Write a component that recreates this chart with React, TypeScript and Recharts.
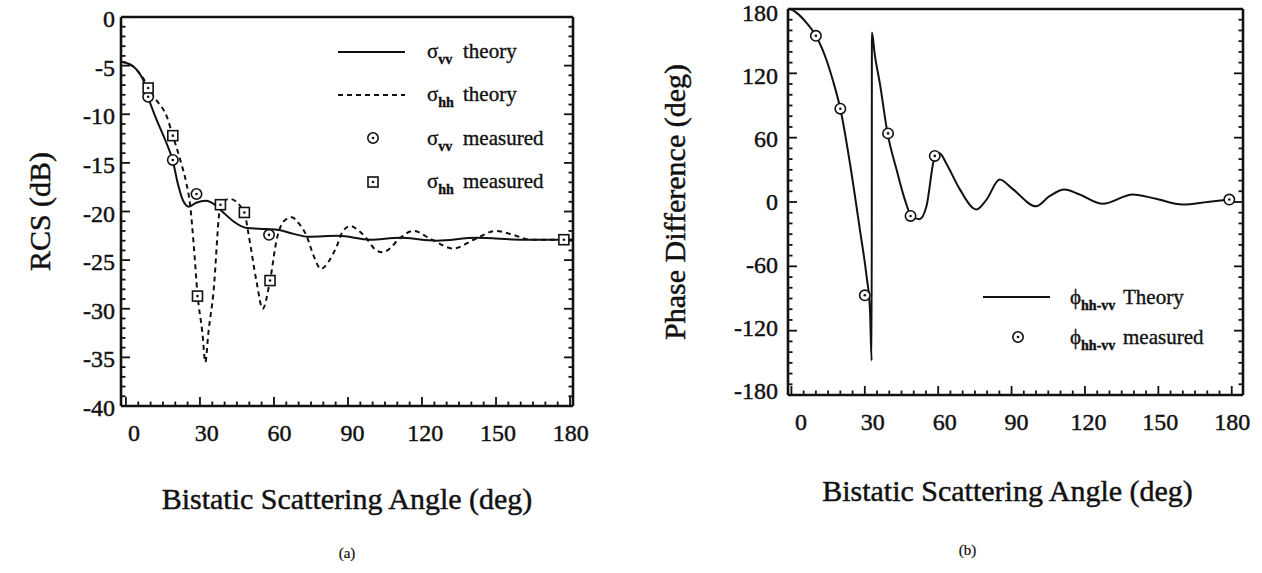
import React from 'react'
import { ComposedChart, Line, Scatter, XAxis, YAxis, Legend, Label } from 'recharts'

const FONT = "'Liberation Serif', 'Times New Roman', Times, serif"
const INK = '#111'

// ---- (a) RCS vs bistatic angle ----
const vvTheoryAngle = [-2, 0, 3, 5.5, 7.5, 9, 12.5, 16, 19, 21.2, 23.2, 25.5, 28.5, 32.5, 36, 39.5, 43.5, 49, 57, 62, 68, 74, 86, 99, 111, 126, 142, 161, 181]
const vvTheoryDb = [-4.6, -4.7, -5.1, -5.8, -6.8, -8.2, -10.6, -12.7, -14.8, -17.3, -18.9, -19.5, -19.1, -18.9, -19.3, -20.1, -21.0, -21.7, -21.8, -21.9, -22.3, -22.6, -22.5, -22.9, -22.7, -23.0, -22.7, -22.9, -22.9]

const hhTheoryAngle = [-2, 0, 3, 5.5, 7.5, 9, 12.5, 16.5, 19, 22, 24.5, 26, 27.5, 29, 31, 32.2, 33.4, 35.4, 38.4, 42, 48, 49.6, 53, 55.4, 58.4, 61.1, 64, 67.2, 70, 73.2, 76, 79, 82, 85.4, 88, 91, 94, 97.6, 101, 104, 107, 110, 116.5, 124, 132.7, 141, 150, 157, 164, 181]
const hhTheoryDb = [-4.6, -4.7, -5.1, -5.8, -6.5, -7.3, -8.6, -10.2, -12.2, -14.7, -17.1, -19.3, -23.5, -28.5, -32.5, -35.5, -32.5, -28.5, -19.3, -18.7, -20.1, -22.2, -27.3, -30.0, -27.1, -22.9, -21.0, -20.6, -21.2, -22.5, -24.5, -25.9, -25.2, -23.6, -22.0, -21.5, -21.9, -22.8, -23.9, -24.2, -23.8, -23.0, -22.0, -22.9, -23.8, -22.9, -22.0, -22.4, -22.9, -22.9]

const vvMeasuredAngle = [9, 19, 28.6, 58]
const vvMeasuredDb = [-8.2, -14.7, -18.2, -22.4]
const hhMeasuredAngle = [9, 19, 29, 38.3, 48, 58.4, 177.5]
const hhMeasuredDb = [-7.3, -12.2, -28.7, -19.3, -20.1, -27.1, -22.9]

// ---- (b) phase difference ----
const phaseTheoryAngle = [-1.4, 0, 2, 6, 10, 14.4, 17, 20, 24, 28, 30.7, 32.1, 32.8, 32.9, 34.1, 36.2, 39.3, 43, 46.4, 49.1, 52.4, 55.2, 58.6, 60.6, 63.3, 68.8, 75.6, 79.7, 85.1, 90.5, 100, 105.5, 111.6, 117.8, 127.3, 139.5, 149, 159.9, 170, 179]
const phaseTheoryDeg = [180, 179.5, 176.6, 167.5, 155, 132, 113, 87, 35, -26, -69, -100, -148, 158, 137, 110, 64, 30, 2, -13.5, -16, -4, 42, 45.5, 36, 12, -7, 2, 21, 12, -4, 5.4, 11.6, 7, -1.7, 7, 3, -2.3, 0, 2.3]
const phaseMeasuredAngle = [10, 20, 30, 39.5, 48.7, 58.6, 179]
const phaseMeasuredDeg = [155, 87, -87, 64, -13, 43, 2.3]

const range = (a: number, b: number, s: number) => {
  const r: number[] = []
  for (let v = a; v <= b + 1e-9; v += s) r.push(Math.round(v * 100) / 100)
  return r
}
const angleTicks = range(0, 180, 5)
const rcsTicks = range(-40, 0, 1)
const phaseTicks = range(-180, 180, 10)

const zip = (xs: number[], ys: number[]) => xs.map((x, i) => ({ x, y: ys[i] }))

const vvTheory = zip(vvTheoryAngle, vvTheoryDb)
const hhTheory = zip(hhTheoryAngle, hhTheoryDb)
const vvMeasured = zip(vvMeasuredAngle, vvMeasuredDb)
const hhMeasured = zip(hhMeasuredAngle, hhMeasuredDb)
const phaseTheory = zip(phaseTheoryAngle, phaseTheoryDeg)
const phaseMeasured = zip(phaseMeasuredAngle, phaseMeasuredDeg)

type Side = 'bottom' | 'top' | 'left' | 'right'
type TickLabel = { gap: number; shift?: (v: number) => number }

const textInk = { fill: INK, stroke: INK, strokeWidth: 0.45, fontFamily: FONT }

// inward tick marks, long on majors; labels only on majors
const edgeTick = (side: Side, majorStep: number, label?: TickLabel) => (props: any) => {
  const { x, y, payload } = props
  const v = Number(payload?.value)
  const major = Math.abs(v % majorStep) < 1e-6
  const len = major ? 9 : 4.5
  const end =
    side === 'bottom' ? [x, y - len] : side === 'top' ? [x, y + len] : side === 'left' ? [x + len, y] : [x - len, y]
  const s = label?.shift ? label.shift(v) : 0
  return (
    <g>
      <line x1={x} y1={y} x2={end[0]} y2={end[1]} stroke={INK} strokeWidth={1.8} />
      {label && major && (side === 'bottom' ? (
        <text x={x + s} y={y + label.gap} textAnchor="middle" dominantBaseline="central" fontSize={24} {...textInk}>
          {v}
        </text>
      ) : (
        <text x={x - label.gap} y={y + s} textAnchor="end" dominantBaseline="central" fontSize={24} {...textInk}>
          {v}
        </text>
      ))}
    </g>
  )
}

const CircleDot = (props: any) => {
  const { cx, cy } = props
  return (
    <g>
      <circle cx={cx} cy={cy} r={5.2} fill="#fff" stroke={INK} strokeWidth={1.6} />
      <circle cx={cx} cy={cy} r={1.3} fill={INK} />
    </g>
  )
}

const SquareDot = (props: any) => {
  const { cx, cy } = props
  return (
    <g>
      <rect x={cx - 5} y={cy - 5} width={10} height={10} fill="#fff" stroke={INK} strokeWidth={1.6} />
      <circle cx={cx} cy={cy} r={1.3} fill={INK} />
    </g>
  )
}

const frame = { stroke: INK, strokeWidth: 2.6 }

type LegendRow = { sym: string; sub: string; text: string; kind: 'solid' | 'dashed' | 'circle' | 'square' }

const rcsLegend: LegendRow[] = [
  { sym: 'σ', sub: 'vv', text: 'theory', kind: 'solid' },
  { sym: 'σ', sub: 'hh', text: 'theory', kind: 'dashed' },
  { sym: 'σ', sub: 'vv', text: 'measured', kind: 'circle' },
  { sym: 'σ', sub: 'hh', text: 'measured', kind: 'square' },
]
const phaseLegend: LegendRow[] = [
  { sym: 'ϕ', sub: 'hh-vv', text: 'Theory', kind: 'solid' },
  { sym: 'ϕ', sub: 'hh-vv', text: 'measured', kind: 'circle' },
]

const LegendBox = ({ rows, rowH, gap, symW }: { rows: LegendRow[]; rowH: number; gap: number; symW: number }) => (
  <div style={{ fontFamily: FONT, color: INK, fontSize: 21, WebkitTextStroke: '0.35px #111' }}>
    {rows.map((r, i) => (
      <div key={i} style={{ height: rowH, display: 'flex', alignItems: 'center', whiteSpace: 'nowrap' }}>
        <svg width={67} height={20}>
          {r.kind === 'solid' && <line x1={0} y1={10} x2={67} y2={10} stroke={INK} strokeWidth={2} />}
          {r.kind === 'dashed' && <line x1={0} y1={10} x2={67} y2={10} stroke={INK} strokeWidth={2} strokeDasharray="5 4" />}
          {r.kind === 'circle' && <CircleDot cx={35} cy={10} />}
          {r.kind === 'square' && <SquareDot cx={35} cy={10} />}
        </svg>
        <span style={{ marginLeft: gap, display: 'inline-block', width: symW }}>
          {r.sym}
          <span style={{ fontSize: 14, fontWeight: 'bold', position: 'relative', top: 6 }}>{r.sub}</span>
        </span>
        <span>{r.text}</span>
      </div>
    ))}
  </div>
)

const axisTitle = (text: string, dx: number, dy: number, rotate = false, size = 30) => (props: any) => {
  const vb = props.viewBox || { x: 0, y: 0, width: 0, height: 0 }
  const cx = vb.x + (rotate ? 0 : vb.width / 2) + dx
  const cy = vb.y + (rotate ? vb.height / 2 : 0) + dy
  return (
    <text
      x={cx}
      y={cy}
      textAnchor="middle"
      dominantBaseline="central"
      fontSize={size}
      {...textInk}
      strokeWidth={size > 20 ? 0.45 : 0.2}
      transform={rotate ? `rotate(-90 ${cx} ${cy})` : undefined}
    >
      {text}
    </text>
  )
}

function RcsChart() {
  return (
    <ComposedChart width={640} height={573} margin={{ top: 16, right: 66, bottom: 166, left: 120 }}>
      <XAxis
        dataKey="x"
        type="number"
        domain={[-2, 181.2]}
        allowDataOverflow
        ticks={angleTicks}
        interval={0}
        height={1}
        tickSize={0}
        tickMargin={0}
        tickLine={false}
        axisLine={frame}
        tick={edgeTick('bottom', 30, { gap: 27, shift: (v) => 8 - v * 0.04 })}
      >
        <Label content={axisTitle('Bistatic Scattering Angle (deg)', 0, 92)} />
        <Label content={axisTitle('(a)', 0, 147, false, 15)} />
      </XAxis>
      <XAxis
        xAxisId="top"
        orientation="top"
        type="number"
        domain={[-2, 181.2]}
        allowDataOverflow
        ticks={angleTicks}
        interval={0}
        height={1}
        tickSize={0}
        tickMargin={0}
        tickLine={false}
        axisLine={frame}
        tick={edgeTick('top', 30)}
      />
      <YAxis
        type="number"
        domain={[-40, 0]}
        allowDataOverflow
        ticks={rcsTicks}
        interval={0}
        width={1}
        tickSize={0}
        tickMargin={0}
        tickLine={false}
        axisLine={frame}
        tick={edgeTick('left', 5, { gap: 6, shift: () => 2 })}
      >
        <Label content={axisTitle('RCS  (dB)', -81, 0, true)} />
      </YAxis>
      <YAxis
        yAxisId="right"
        orientation="right"
        type="number"
        domain={[-40, 0]}
        allowDataOverflow
        ticks={rcsTicks}
        interval={0}
        width={1}
        tickSize={0}
        tickMargin={0}
        tickLine={false}
        axisLine={frame}
        tick={edgeTick('right', 5)}
      />
      <Legend
        layout="horizontal"
        verticalAlign="middle"
        align="center"
        wrapperStyle={{ left: 338, top: 30, width: 260 }}
        content={() => <LegendBox rows={rcsLegend} rowH={43.3} gap={22} symW={36} />}
      />
      <Line data={hhTheory} dataKey="y" type="monotone" stroke={INK} strokeWidth={2} strokeDasharray="5 4" dot={false} isAnimationActive={false} />
      <Line data={vvTheory} dataKey="y" type="monotone" stroke={INK} strokeWidth={2} dot={false} isAnimationActive={false} />
      <Scatter data={vvMeasured} dataKey="y" shape={CircleDot} isAnimationActive={false} />
      <Scatter data={hhMeasured} dataKey="y" shape={SquareDot} isAnimationActive={false} />
    </ComposedChart>
  )
}

function PhaseChart() {
  return (
    <ComposedChart width={622} height={573} margin={{ top: 8, right: 18, bottom: 177, left: 147 }}>
      <XAxis
        dataKey="x"
        type="number"
        domain={[-1.4, 184.6]}
        allowDataOverflow
        ticks={angleTicks}
        interval={0}
        height={1}
        tickSize={0}
        tickMargin={0}
        tickLine={false}
        axisLine={frame}
        tick={edgeTick('bottom', 30, { gap: 27, shift: (v) => 9.5 - v * 0.05 })}
      >
        <Label content={axisTitle('Bistatic Scattering Angle (deg)', -8, 95)} />
        <Label content={axisTitle('(b)', -48, 155, false, 15)} />
      </XAxis>
      <XAxis
        xAxisId="top"
        orientation="top"
        type="number"
        domain={[-1.4, 184.6]}
        allowDataOverflow
        ticks={angleTicks}
        interval={0}
        height={1}
        tickSize={0}
        tickMargin={0}
        tickLine={false}
        axisLine={frame}
        tick={edgeTick('top', 30)}
      />
      <YAxis
        type="number"
        domain={[-180, 180]}
        allowDataOverflow
        ticks={phaseTicks}
        interval={0}
        width={1}
        tickSize={0}
        tickMargin={0}
        tickLine={false}
        axisLine={frame}
        tick={edgeTick('left', 60, { gap: 10, shift: (v) => v * 0.024 })}
      >
        <Label content={axisTitle('Phase Difference  (deg)', -113, 0, true)} />
      </YAxis>
      <YAxis
        yAxisId="right"
        orientation="right"
        type="number"
        domain={[-180, 180]}
        allowDataOverflow
        ticks={phaseTicks}
        interval={0}
        width={1}
        tickSize={0}
        tickMargin={0}
        tickLine={false}
        axisLine={frame}
        tick={edgeTick('right', 60)}
      />
      <Legend
        layout="horizontal"
        verticalAlign="middle"
        align="center"
        wrapperStyle={{ left: 343, top: 277, width: 260 }}
        content={() => <LegendBox rows={phaseLegend} rowH={40} gap={20} symW={53} />}
      />
      <Line data={phaseTheory} dataKey="y" type="monotone" stroke={INK} strokeWidth={2} dot={false} isAnimationActive={false} />
      <Scatter data={phaseMeasured} dataKey="y" shape={CircleDot} isAnimationActive={false} />
    </ComposedChart>
  )
}

export default function App() {
  return (
    <div style={{ position: 'absolute', left: 0, top: 0, width: 1262, height: 573, background: '#fff', display: 'flex' }}>
      <RcsChart />
      <PhaseChart />
    </div>
  )
}
